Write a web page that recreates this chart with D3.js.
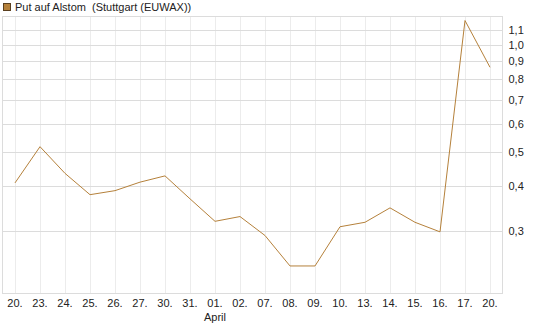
<!DOCTYPE html>
<html><head><meta charset="utf-8">
<script src="https://cdn.jsdelivr.net/npm/d3@7"></script>
<style>body{margin:0;background:#fff}svg{display:block}text{font-family:"Liberation Sans",Arial,sans-serif;font-size:11px;fill:#222}</style>
</head><body><svg id="c" width="545" height="327"></svg>
<script>
const categories = ["20.","23.","24.","25.","26.","27.","30.","31.","01.","02.","07.","08.","09.","10.","13.","14.","15.","16.","17.","20."];
const values = [0.409,0.517,0.435,0.379,0.389,0.411,0.428,0.369,0.319,0.329,0.291,0.239,0.239,0.308,0.317,0.348,0.317,0.298,1.169,0.864];
const yTicks = [0.3,0.4,0.5,0.6,0.7,0.8,0.9,1.0,1.1];
const monthLabels = [{index:8,text:"April"}];
const seriesName = "Put auf Alstom  (Stuttgart (EUWAX))";

const svg = d3.select("#c");
const L=2.5, R=502.5, T=16.5, B=293.5;
const x = d3.scaleBand().domain(d3.range(categories.length)).range([L,R]);
const y = d3.scaleLog().domain([0.2,1.2]).range([B,T]);
const cx = i => x(i)+x.bandwidth()/2;

// vertical grid
svg.append("g").selectAll("line").data(d3.range(categories.length)).join("line")
 .attr("x1",d=>Math.round(cx(d))+0.5).attr("x2",d=>Math.round(cx(d))+0.5)
 .attr("y1",T).attr("y2",B).attr("stroke","#ececec");
// horizontal grid
svg.append("g").selectAll("line").data(yTicks).join("line")
 .attr("x1",L).attr("x2",R).attr("y1",d=>Math.round(y(d))+0.5).attr("y2",d=>Math.round(y(d))+0.5)
 .attr("stroke","#dcdcdc");
// frame
svg.append("rect").attr("x",L).attr("y",T).attr("width",R-L).attr("height",B-T)
 .attr("fill","none").attr("stroke","#dcdcdc");

// y axis labels
const ya = d3.axisRight(y).tickValues(yTicks).tickSize(0).tickPadding(5)
 .tickFormat(d=>d3.format(".1f")(d).replace(".",","));
const gy = svg.append("g").attr("transform",`translate(${R+1},0)`).call(ya);
gy.select(".domain").remove();
gy.selectAll("text").style("font-family",'"Liberation Sans",Arial,sans-serif').style("font-size","11px").attr("fill","#222");

// x axis labels
const xa = d3.axisBottom(x).tickSize(0).tickPadding(6).tickFormat(i=>categories[i]);
const gx = svg.append("g").attr("transform",`translate(0,${B})`).call(xa);
gx.select(".domain").remove();
gx.selectAll("text").style("font-family",'"Liberation Sans",Arial,sans-serif').style("font-size","11px").attr("fill","#222");
svg.selectAll("text.month").data(monthLabels).join("text").attr("class","month")
 .attr("x",d=>cx(d.index)).attr("y",321).attr("text-anchor","middle").text(d=>d.text);

// line
const line = d3.line().x((d,i)=>cx(i)).y(d=>y(d));
svg.append("path").datum(values).attr("d",line).attr("fill","none")
 .attr("stroke","#b5813b").attr("stroke-width",1);

// legend
svg.append("rect").attr("x",3.5).attr("y",3.5).attr("width",7).attr("height",7)
 .attr("fill","#b5813b").attr("stroke","#5a4020");
svg.append("text").attr("x",15).attr("y",11).style("white-space","pre").text(seriesName);
</script></body></html>
